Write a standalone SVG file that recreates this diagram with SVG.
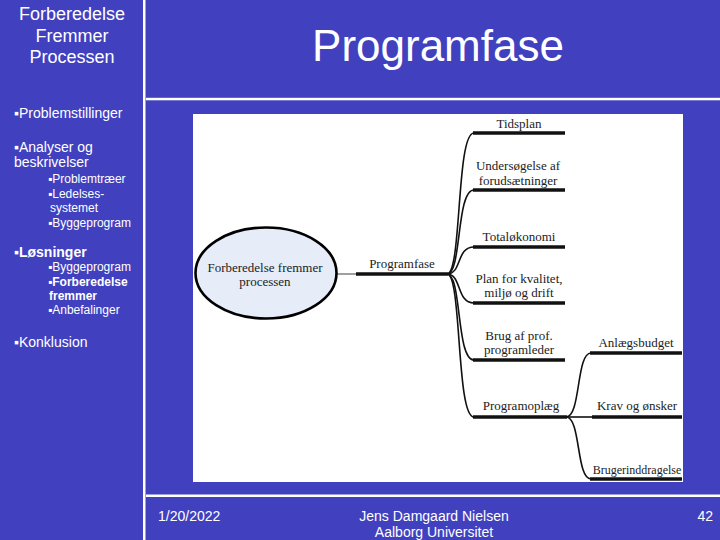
<svg xmlns="http://www.w3.org/2000/svg" width="720" height="540" viewBox="0 0 720 540">
<style>
.ui{font-family:"Liberation Sans",Arial,sans-serif;fill:#fff}
.lab{font-family:"Liberation Serif","Times New Roman",serif;font-size:13px;fill:#222;text-anchor:middle}
.thin{fill:none;stroke:#111;stroke-width:1.6}
.thick{fill:none;stroke:#111;stroke-width:3.6}
</style>
<rect width="720" height="540" fill="#4141BF"/>
<rect x="143" y="0" width="2.5" height="540" fill="#fff"/>
<rect x="146" y="97.8" width="574" height="2.5" fill="#fff"/>
<rect x="146" y="494.5" width="574" height="2.5" fill="#fff"/>
<g class="ui">
<text x="72" y="20" font-size="18" text-anchor="middle">Forberedelse</text>
<text x="72" y="42" font-size="18" text-anchor="middle">Fremmer</text>
<text x="72" y="63" font-size="18" text-anchor="middle">Processen</text>
<text x="438" y="61" font-size="44" text-anchor="middle">Programfase</text>
<text x="14" y="118" font-size="14">▪Problemstillinger</text>
<text x="14" y="152" font-size="14">▪Analyser og</text>
<text x="14" y="167" font-size="14">beskrivelser</text>
<text x="48" y="183" font-size="12">▪Problemtræer</text>
<text x="48" y="198" font-size="12">▪Ledelses-</text>
<text x="50" y="212" font-size="12">systemet</text>
<text x="48" y="227" font-size="12">▪Byggeprogram</text>
<text x="14" y="257" font-size="14" font-weight="bold">▪Løsninger</text>
<text x="48" y="271" font-size="12">▪Byggeprogram</text>
<text x="48" y="286" font-size="12" font-weight="bold">▪Forberedelse</text>
<text x="49" y="300" font-size="12" font-weight="bold">fremmer</text>
<text x="48" y="314" font-size="12">▪Anbefalinger</text>
<text x="14" y="347" font-size="14">▪Konklusion</text>
<text x="158" y="521" font-size="14">1/20/2022</text>
<text x="434" y="521" font-size="14" text-anchor="middle">Jens Damgaard Nielsen</text>
<text x="434" y="537" font-size="14" text-anchor="middle">Aalborg Universitet</text>
<text x="713" y="521" font-size="14" text-anchor="end">42</text>
</g>
<rect x="193" y="114" width="490" height="368" fill="#fff"/>
<g id="connectors">
<line x1="337" y1="274" x2="357" y2="274" stroke="#888" stroke-width="1.6"/>
<line class="thick" x1="356" y1="274" x2="448" y2="274"/>
<path class="thin" d="M447,274 C462,274 456,133 474,133"/>
<path class="thin" d="M447,274 C462,274 456,190 474,190"/>
<path class="thin" d="M447,274 C462,274 456,247 474,247"/>
<path class="thin" d="M447,274 C462,274 456,303 474,303"/>
<path class="thin" d="M447,274 C462,274 456,360 474,360"/>
<path class="thin" d="M447,274 C462,274 456,417 474,417"/>
<line class="thick" x1="473" y1="133" x2="565" y2="133"/>
<line class="thick" x1="473" y1="190" x2="565" y2="190"/>
<line class="thick" x1="473" y1="247" x2="565" y2="247"/>
<line class="thick" x1="473" y1="303" x2="565" y2="303"/>
<line class="thick" x1="473" y1="360" x2="565" y2="360"/>
<line class="thick" x1="473" y1="417" x2="567" y2="417"/>
<path class="thin" d="M566,417 C581,417 576,353 591,353"/>
<path class="thin" d="M566,417 L593,417"/>
<path class="thin" d="M566,417 C581,417 576,479 591,479"/>
<line class="thick" x1="590" y1="353" x2="682" y2="353"/>
<line class="thick" x1="592" y1="417" x2="682" y2="417"/>
<line class="thick" x1="590" y1="479" x2="682" y2="479"/>
</g>
<g id="node-root">
<ellipse cx="266" cy="273" rx="70.5" ry="45.5" fill="#E6ECF8" stroke="#000" stroke-width="2.6"/>
<text class="lab" x="265" y="272">Forberedelse fremmer</text>
<text class="lab" x="265" y="286">processen</text>
</g>
<g id="node-programfase"><text class="lab" x="402" y="268">Programfase</text></g>
<g id="node-tidsplan"><text class="lab" x="519" y="128">Tidsplan</text></g>
<g id="node-undersoegelse"><text class="lab" x="518" y="170">Undersøgelse af</text><text class="lab" x="518" y="185">forudsætninger</text></g>
<g id="node-totaloekonomi"><text class="lab" x="519" y="241">Totaløkonomi</text></g>
<g id="node-plan"><text class="lab" x="519" y="283">Plan for kvalitet,</text><text class="lab" x="519" y="297">miljø og drift</text></g>
<g id="node-brug"><text class="lab" x="519" y="340">Brug af prof.</text><text class="lab" x="519" y="354">programleder</text></g>
<g id="node-programoplaeg"><text class="lab" x="521" y="410">Programoplæg</text></g>
<g id="node-anlaegsbudget"><text class="lab" x="636" y="347">Anlægsbudget</text></g>
<g id="node-krav"><text class="lab" x="637" y="410">Krav og ønsker</text></g>
<g id="node-bruger"><text class="lab" x="637" y="474" style="font-size:12px">Brugerinddragelse</text></g>
</svg>
